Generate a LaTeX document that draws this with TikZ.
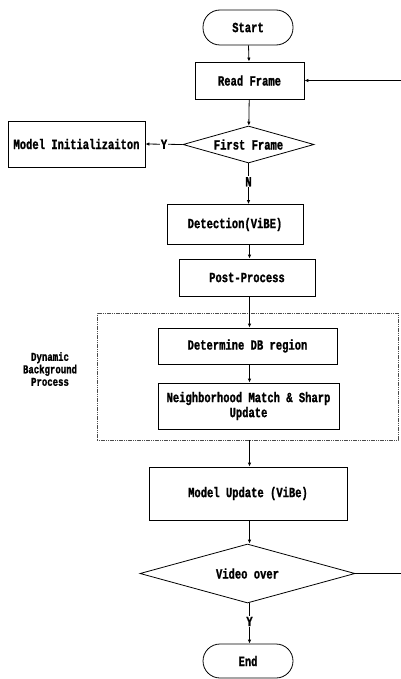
\documentclass[tikz,border=0pt]{standalone}
\usepackage{fontspec}
\newfontfamily\flowfont[FakeStretch=0.75,FakeBold=1.2]{Liberation Mono}
\usetikzlibrary{shapes.geometric,arrows.meta}
\begin{document}
\begin{tikzpicture}[x=1bp,y=-1bp,
  every node/.style={font=\flowfont\bfseries\fontsize{14bp}{13bp}\selectfont, inner sep=0pt},
  box/.style={draw, line width=0.8bp, rectangle, align=center},
  term/.style={draw, line width=0.8bp, rectangle, rounded corners=17bp, minimum width=90bp},
  decision/.style={draw, line width=0.8bp, diamond},
  flow/.style={line width=0.8bp, -{Latex[length=4bp,width=3.5bp]}},
  tag/.style={fill=white, inner sep=1bp},
  group/.style={draw=black!70, line width=0.8bp, dash pattern=on 1.2bp off 0.6bp}]
\useasboundingbox (0,0) rectangle (400,679);

% main column
\node[term, minimum height=35bp] (start) at (248,27.5) {Start};
\node[box, minimum width=109bp, minimum height=37bp] (read) at (249.5,80.5) {Read Frame};
\node[decision, aspect=3.54, minimum width=131bp, minimum height=37bp] (first) at (248.5,144.5) {First Frame};
\node[box, minimum width=137bp, minimum height=46bp] (init) at (76.5,144) {Model Initializaiton};
\node[box, minimum width=136bp, minimum height=40bp] (detect) at (235,224.5) {Detection(ViBE)};
\node[box, minimum width=136bp, minimum height=37bp] (post) at (247,277.5) {Post-Process};

% dynamic background group
\node[group, rectangle, minimum width=301bp, minimum height=127bp] (dbp) at (247.5,376.5) {};
\node[align=center, font=\flowfont\bfseries\fontsize{12bp}{12.5bp}\selectfont] (dbplabel) at (50,369) {Dynamic\\Background\\Process};
\node[box, minimum width=179bp, minimum height=36bp] (region) at (247.5,346) {Determine DB region};
\node[box, minimum width=181bp, minimum height=46bp, font=\flowfont\bfseries\fontsize{14bp}{15bp}\selectfont] (match) at (248.5,406) {Neighborhood Match \& Sharp\\Update};

\node[box, minimum width=198bp, minimum height=53bp] (update) at (248,493.5) {Model Update (ViBe)};
\node[decision, aspect=3.64, minimum width=215bp, minimum height=59bp] (over) at (247.5,573.5) {Video over};
\node[term, minimum height=34bp] (end) at (248,661) {End};

% loop back to the frame reader
\coordinate (loopa) at (401,573.5);
\coordinate (loopb) at (401,80.5);

% connectors
\draw[flow] (start) -- (read);
\draw[flow] (read) -- (first);
\draw[flow] (first.west) -- node[tag] {Y} (init.east);
\draw[flow] (first.south) -- node[tag, pos=0.45] {N} (first.south |- detect.north);
\draw[flow] (detect.south -| read) -- (post.north -| read);
\draw[flow] (post.south -| read) -- (region.north -| read);
\draw[flow] (region.south -| read) -- (match.north -| read);
\draw[flow] (dbp.south -| read) -- (update.north -| read);
\draw[flow] (update.south -| read) -- (over.north -| read);
\draw[flow] (over.south -| read) -- node[tag, pos=0.45] {Y} (end.north -| read);
\draw[flow] (over.east) -- (loopa) -- (loopb) -- (read.east);
\end{tikzpicture}
\end{document}
